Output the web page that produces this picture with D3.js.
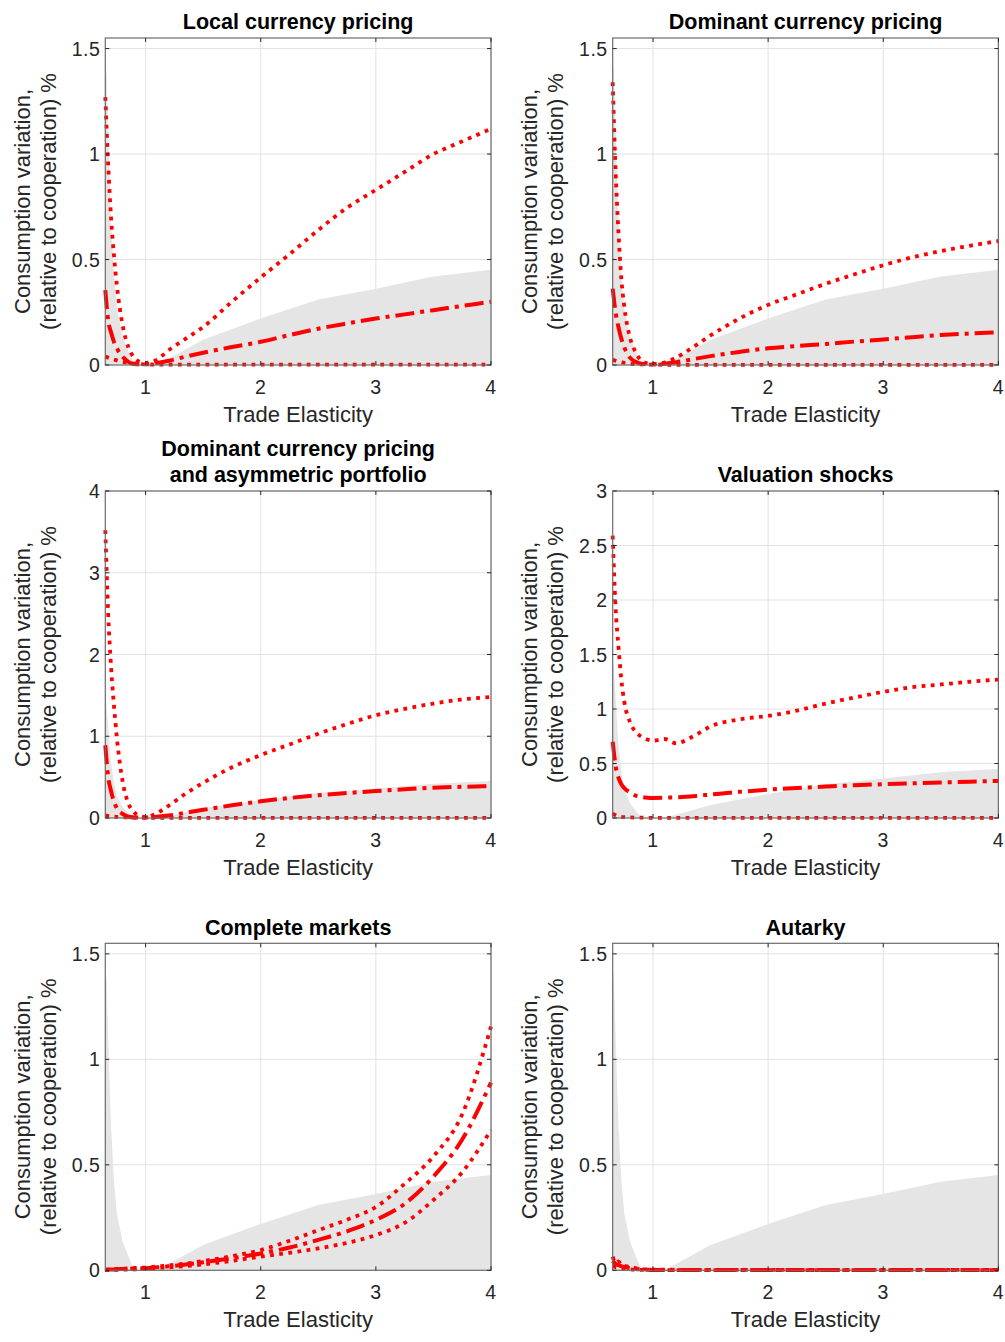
<!DOCTYPE html>
<html><head><meta charset="utf-8">
<script src="https://cdn.jsdelivr.net/npm/d3@7"></script>
<style>body{margin:0;background:#fff}svg{display:block}</style>
</head><body>
<svg id="c" width="1005" height="1342"></svg>
<script>
// ---- data ----
const elasticity = [0.65, 0.675, 0.7, 0.725, 0.75, 0.8, 0.85, 0.9, 0.95, 1.0, 1.1, 1.2, 1.35, 1.5, 1.75, 2.0, 2.25, 2.5, 2.75, 3.0, 3.25, 3.5, 3.75, 4.0];

const bandX     = [0.65, 0.662, 0.685, 0.7, 0.725, 0.75, 0.8, 0.9, 1.1, 1.5, 2.0, 2.5, 3.0, 3.5, 4.0];
const bandUpper = [1.45, 1.36, 0.93, 0.68, 0.43, 0.27, 0.136, 0.0, 0.0, 0.12, 0.22, 0.31, 0.362, 0.42, 0.452];

const lcpUpper = [1.27, 0.95, 0.70, 0.52, 0.38, 0.19, 0.085, 0.035, 0.015, 0.01, 0.025, 0.07, 0.125, 0.18, 0.30, 0.415, 0.525, 0.64, 0.745, 0.83, 0.915, 1.0, 1.06, 1.12];
const lcpMid   = [0.355, 0.21, 0.155, 0.11, 0.08, 0.04, 0.015, 0.005, 0.003, 0.003, 0.01, 0.02, 0.04, 0.058, 0.085, 0.11, 0.142, 0.172, 0.197, 0.22, 0.24, 0.26, 0.28, 0.30];
const lcpLower = [0.04, 0.035, 0.03, 0.026, 0.022, 0.015, 0.01, 0.006, 0.004, 0.003, 0.002, 0.002, 0.002, 0.002, 0.002, 0.002, 0.002, 0.002, 0.002, 0.002, 0.002, 0.002, 0.002, 0.002];

const dcpUpper = [1.34, 0.92, 0.63, 0.41, 0.28, 0.13, 0.06, 0.02, 0.008, 0.005, 0.012, 0.035, 0.085, 0.14, 0.22, 0.285, 0.335, 0.385, 0.43, 0.473, 0.51, 0.54, 0.565, 0.588];
const dcpMid   = [0.362, 0.25, 0.18, 0.125, 0.085, 0.035, 0.015, 0.006, 0.003, 0.002, 0.006, 0.013, 0.028, 0.042, 0.062, 0.079, 0.09, 0.10, 0.111, 0.121, 0.132, 0.142, 0.149, 0.155];
const dcpLower = [0.024, 0.02, 0.016, 0.013, 0.01, 0.006, 0.004, 0.003, 0.002, 0.002, 0.001, 0.001, 0.001, 0.001, 0.001, 0.001, 0.001, 0.001, 0.001, 0.001, 0.001, 0.001, 0.001, 0.001];

const asymUpper = [3.52, 2.5, 1.85, 1.38, 0.99, 0.45, 0.18, 0.07, 0.025, 0.01, 0.06, 0.15, 0.3, 0.43, 0.62, 0.77, 0.9, 1.03, 1.15, 1.257, 1.335, 1.40, 1.45, 1.48];
const asymMid   = [0.89, 0.50, 0.33, 0.2, 0.12, 0.05, 0.015, 0.007, 0.005, 0.005, 0.015, 0.03, 0.065, 0.10, 0.155, 0.204, 0.245, 0.278, 0.305, 0.33, 0.352, 0.37, 0.382, 0.39];
const asymLower = [0.03, 0.025, 0.02, 0.016, 0.013, 0.009, 0.006, 0.004, 0.003, 0.003, 0.002, 0.002, 0.002, 0.002, 0.002, 0.002, 0.002, 0.002, 0.002, 0.002, 0.002, 0.002, 0.002, 0.002];

const valUpper = [2.59, 1.93, 1.57, 1.27, 1.07, 0.88, 0.79, 0.745, 0.72, 0.71, 0.725, 0.685, 0.75, 0.84, 0.905, 0.937, 0.985, 1.05, 1.105, 1.157, 1.2, 1.225, 1.25, 1.27];
const valMid   = [0.70, 0.48, 0.37, 0.31, 0.275, 0.235, 0.205, 0.192, 0.186, 0.184, 0.186, 0.19, 0.2, 0.215, 0.24, 0.26, 0.275, 0.288, 0.3, 0.31, 0.318, 0.326, 0.333, 0.34];
const valLower = [0.04, 0.025, 0.015, 0.011, 0.008, 0.005, 0.004, 0.003, 0.002, 0.002, 0.002, 0.002, 0.002, 0.002, 0.002, 0.002, 0.002, 0.002, 0.002, 0.002, 0.002, 0.002, 0.002, 0.002];

const cmUpper = [0.003, 0.004, 0.005, 0.006, 0.007, 0.008, 0.009, 0.011, 0.012, 0.013, 0.018, 0.023, 0.032, 0.044, 0.067, 0.096, 0.14, 0.19, 0.24, 0.30, 0.41, 0.54, 0.74, 1.155];
const cmMid   = [0.002, 0.003, 0.004, 0.004, 0.005, 0.006, 0.007, 0.008, 0.009, 0.01, 0.014, 0.019, 0.027, 0.038, 0.057, 0.08, 0.108, 0.144, 0.185, 0.239, 0.315, 0.444, 0.62, 0.89];
const cmLower = [0.001, 0.001, 0.002, 0.002, 0.002, 0.003, 0.003, 0.004, 0.005, 0.006, 0.01, 0.014, 0.02, 0.028, 0.045, 0.065, 0.083, 0.104, 0.13, 0.167, 0.225, 0.333, 0.465, 0.665];

const autUpper = [0.065, 0.035, 0.042, 0.025, 0.022, 0.015, 0.01, 0.006, 0.004, 0.003, 0.003, 0.002, 0.002, 0.002, 0.002, 0.002, 0.002, 0.002, 0.002, 0.002, 0.002, 0.002, 0.002, 0.002];
const autMid   = [0.045, 0.03, 0.025, 0.02, 0.016, 0.01, 0.006, 0.004, 0.003, 0.002, 0.001, 0.001, 0.001, 0.001, 0.001, 0.001, 0.001, 0.001, 0.001, 0.001, 0.001, 0.001, 0.001, 0.001];
const autLower = [0.02, 0.015, 0.012, 0.01, 0.008, 0.005, 0.003, 0.002, 0.001, 0.001, 0.0005, 0.0005, 0.0005, 0.0005, 0.0005, 0.0005, 0.0005, 0.0005, 0.0005, 0.0005, 0.0005, 0.0005, 0.0005, 0.0005];

const panelTitles = [
  ["Local currency pricing"],
  ["Dominant currency pricing"],
  ["Dominant currency pricing", "and asymmetric portfolio"],
  ["Valuation shocks"],
  ["Complete markets"],
  ["Autarky"]
];
const panelSeries = [
  [lcpUpper, lcpMid, lcpLower],
  [dcpUpper, dcpMid, dcpLower],
  [asymUpper, asymMid, asymLower],
  [valUpper, valMid, valLower],
  [cmUpper, cmMid, cmLower],
  [autUpper, autMid, autLower]
];
const panelYMax = [1.55, 1.55, 4, 3, 1.55, 1.55];
const yTicksA = [0, 0.5, 1, 1.5];
const yTicksB = [0, 1, 2, 3, 4];
const yTicksC = [0, 0.5, 1, 1.5, 2, 2.5, 3];
const panelYTicks = [yTicksA, yTicksA, yTicksB, yTicksC, yTicksA, yTicksA];
const xTicks = [1, 2, 3, 4];
const xDomain = [0.65, 4];
const xLabel = "Trade Elasticity";
const yLabelLines = ["Consumption variation,", "(relative to cooperation) %"];

// ---- layout ----
const colLeft = [105.3, 612.7];
const rowTop = [38, 491, 943.3];
const W = 385.7, H = 327;
const FONT = "'Liberation Sans', Arial, Helvetica, sans-serif";
const styles = [
  {w: 3.8, dash: "3.8,5.4"},
  {w: 4, dash: "19,6,4,6"},
  {w: 3.8, dash: "3.8,5.4"}
];

const svg = d3.select("#c");

panelTitles.forEach((title, i) => {
  const col = i % 2, row = Math.floor(i / 2);
  const g = svg.append("g").attr("transform", `translate(${colLeft[col]},${rowTop[row]})`);
  const x = d3.scaleLinear().domain(xDomain).range([0, W]);
  const y = d3.scaleLinear().domain([0, panelYMax[i]]).range([H, 0]);
  const yt = panelYTicks[i];

  // grid
  g.selectAll(".gx").data(xTicks).join("line")
    .attr("x1", d => x(d)).attr("x2", d => x(d)).attr("y1", 0).attr("y2", H)
    .attr("stroke", "#e2e2e2").attr("stroke-width", 1);
  g.selectAll(".gy").data(yt.filter(v => v > 0)).join("line")
    .attr("x1", 0).attr("x2", W).attr("y1", d => y(d)).attr("y2", d => y(d))
    .attr("stroke", "#e2e2e2").attr("stroke-width", 1);

  // gray band
  const band = bandX.map((bx, k) => [bx, bandUpper[k]]);
  g.append("path").datum(band)
    .attr("d", d3.area().x(d => x(d[0])).y0(y(0)).y1(d => y(d[1])))
    .attr("fill", "#e5e5e5");

  // red lines
  const line = d3.line().x(d => x(d[0])).y(d => y(d[1])).curve(d3.curveMonotoneX);
  panelSeries[i].forEach((vals, s) => {
    const pts = elasticity.map((ex, k) => [ex, vals[k]]);
    g.append("path").datum(pts).attr("d", line)
      .attr("fill", "none").attr("stroke", "#ff0000")
      .attr("stroke-width", styles[s].w).attr("stroke-dasharray", styles[s].dash);
  });

  // box
  g.append("rect").attr("x", 0).attr("y", 0).attr("width", W).attr("height", H)
    .attr("fill", "none").attr("stroke", "#6b6b6b").attr("stroke-width", 1.2);

  // ticks inside on all sides
  const tl = 4;
  xTicks.forEach(t => {
    g.append("line").attr("x1", x(t)).attr("x2", x(t)).attr("y1", H).attr("y2", H - tl).attr("stroke", "#262626");
    g.append("line").attr("x1", x(t)).attr("x2", x(t)).attr("y1", 0).attr("y2", tl).attr("stroke", "#262626");
  });
  yt.forEach(t => {
    g.append("line").attr("x1", 0).attr("x2", tl).attr("y1", y(t)).attr("y2", y(t)).attr("stroke", "#262626");
    g.append("line").attr("x1", W).attr("x2", W - tl).attr("y1", y(t)).attr("y2", y(t)).attr("stroke", "#262626");
  });

  // tick labels
  g.selectAll(".xl").data(xTicks).join("text")
    .attr("x", d => x(d)).attr("y", H + 29).attr("text-anchor", "middle")
    .attr("font-family", FONT).attr("font-size", 19.5).attr("letter-spacing", 0.5).attr("fill", "#262626")
    .text(d => d);
  g.selectAll(".yl").data(yt).join("text")
    .attr("x", -5).attr("y", d => y(d) + 7).attr("text-anchor", "end")
    .attr("font-family", FONT).attr("font-size", 19.5).attr("letter-spacing", 0.5).attr("fill", "#262626")
    .text(d => d);

  // x label
  g.append("text").attr("x", W / 2).attr("y", H + 57).attr("text-anchor", "middle")
    .attr("font-family", FONT).attr("font-size", 22).attr("fill", "#262626").text(xLabel);

  // y label
  const offs = [-75.8, -49.3];
  yLabelLines.forEach((t, k) => {
    g.append("text").attr("transform", `translate(${offs[k]},${H / 2}) rotate(-90)`)
      .attr("text-anchor", "middle").attr("font-family", FONT).attr("font-size", 22)
      .attr("fill", "#262626").text(t);
  });

  // title
  const n = title.length;
  title.forEach((t, k) => {
    g.append("text").attr("x", W / 2).attr("y", -8.7 - (n - 1 - k) * 26.6)
      .attr("text-anchor", "middle").attr("font-family", FONT).attr("font-weight", "bold")
      .attr("font-size", 21.5).attr("fill", "#000").text(t);
  });
});
</script>
</body></html>
